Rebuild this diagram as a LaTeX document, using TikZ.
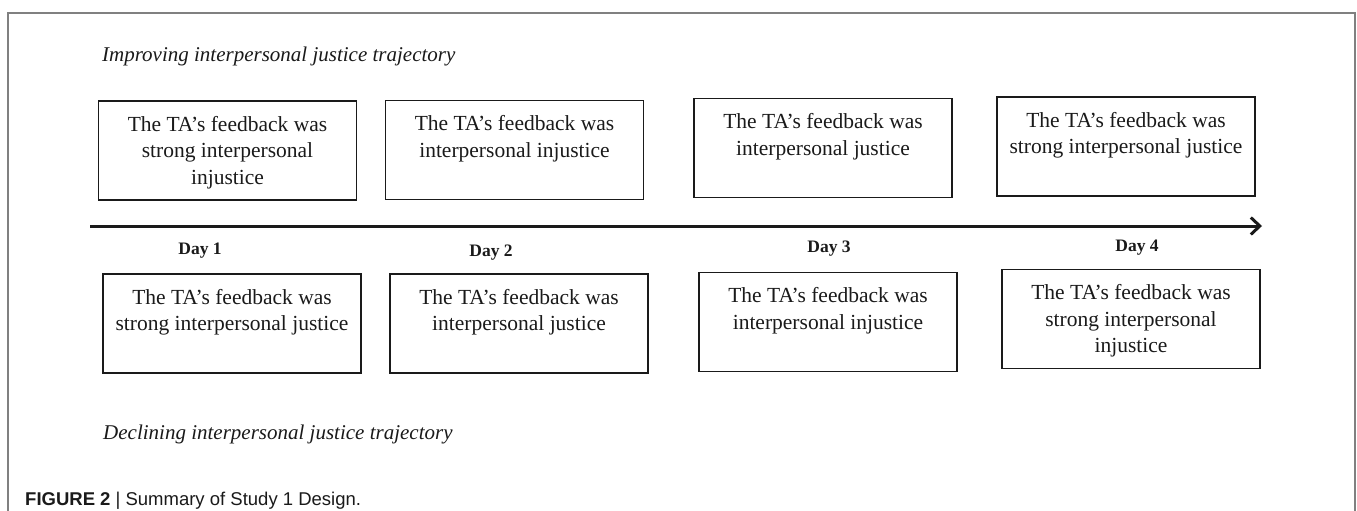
\documentclass[tikz,border=0pt]{standalone}
\usepackage{fontspec}
\setmainfont{Liberation Serif}
\newfontfamily\capfont{Liberation Sans}
\usetikzlibrary{arrows.meta}
\definecolor{framegray}{HTML}{808080}
\definecolor{ink}{HTML}{1A1A1A}
\newcommand{\tabody}[1]{\parbox[c][99pt][t]{256pt}{\centering\rule{0pt}{30pt}#1}}
\tikzset{
  tabox/.style={draw=ink, line width=1.7pt, inner sep=0pt, text=ink,
    minimum width=258pt, minimum height=99pt,
    font=\fontsize{21.5}{26.5}\selectfont},
  daylabel/.style={anchor=base, text=ink, inner sep=0pt,
    font=\fontsize{17.5}{20}\selectfont\bfseries},
  heading/.style={anchor=base west, text=ink, inner sep=0pt,
    font=\fontsize{21}{25}\selectfont\itshape},
  timeline/.style={draw=ink, line width=3pt,
    -{Straight Barb[length=9pt,width=17pt]}},
  frameline/.style={draw=framegray, line width=2pt}
}
\begin{document}
\begin{tikzpicture}[x=1pt,y=-1pt]
\useasboundingbox (0,0) rectangle (1357,511);
\fill[white] (0,0) rectangle (1357,511);
% outer frame
\draw[frameline] (8,511) -- (8,13) -- (1355,13) -- (1355,511);

% headings
\node[heading] (improving) at (102,62) {Improving interpersonal justice trajectory};
\node[heading] (declining) at (103,439) {Declining interpersonal justice trajectory};

% upper boxes
\node[tabox] (u1) at (227.5,150.5) {\tabody{The TA’s feedback was\\strong interpersonal\\injustice}};
\node[tabox] (u2) at (514.5,150) {\tabody{The TA’s feedback was\\interpersonal injustice}};
\node[tabox] (u3) at (823,148) {\tabody{The TA’s feedback was\\interpersonal justice}};
\node[tabox] (u4) at (1126,146.5) {\tabody{The TA’s feedback was\\strong interpersonal justice}};

% timeline
\coordinate (tstart) at (90,226);
\coordinate (tend) at (1262,226);
\draw[timeline] (tstart) -- (tend);

% day labels
\node[daylabel] (d1) at (200,254) {Day 1};
\node[daylabel] (d2) at (491,256) {Day 2};
\node[daylabel] (d3) at (829,252) {Day 3};
\node[daylabel] (d4) at (1137,251) {Day 4};

% lower boxes
\node[tabox] (l1) at (232,323.5) {\tabody{The TA’s feedback was\\strong interpersonal justice}};
\node[tabox] (l2) at (519,323.5) {\tabody{The TA’s feedback was\\interpersonal justice}};
\node[tabox] (l3) at (828,322) {\tabody{The TA’s feedback was\\interpersonal injustice}};
\node[tabox] (l4) at (1131,319) {\tabody{The TA’s feedback was\\strong interpersonal\\injustice}};

% caption
\node[anchor=base west, inner sep=0pt, text=ink, font=\capfont\fontsize{18.5}{20}\selectfont]
  (caption) at (25,505) {\textbf{FIGURE 2} | Summary of Study 1 Design.};
\end{tikzpicture}
\end{document}
